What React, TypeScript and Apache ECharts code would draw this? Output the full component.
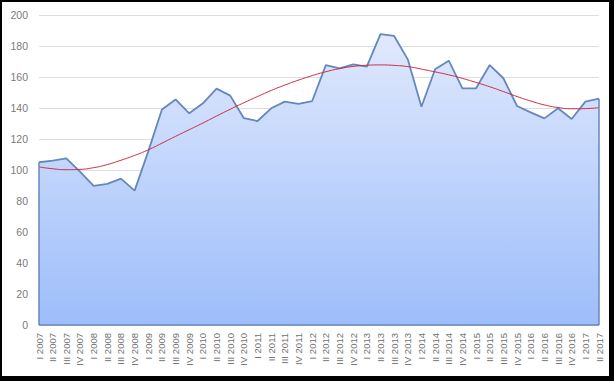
import React, { useEffect, useRef } from "react";
import * as echarts from "echarts";

const categories = [
  "I 2007", "II 2007", "III 2007", "IV 2007",
  "I 2008", "II 2008", "III 2008", "IV 2008",
  "I 2009", "II 2009", "III 2009", "IV 2009",
  "I 2010", "II 2010", "III 2010", "IV 2010",
  "I 2011", "II 2011", "III 2011", "IV 2011",
  "I 2012", "II 2012", "III 2012", "IV 2012",
  "I 2013", "II 2013", "III 2013", "IV 2013",
  "I 2014", "II 2014", "III 2014", "IV 2014",
  "I 2015", "II 2015", "III 2015", "IV 2015",
  "I 2016", "II 2016", "III 2016", "IV 2016",
  "I 2017", "II 2017",
];

const values = [
  105, 106, 107.5, 99,
  89.7, 91, 94.4, 86.7,
  112, 139, 145.5, 136.6,
  143, 152.5, 148, 133.4,
  131.6, 139.8, 144.1, 142.6,
  144.5, 167.7, 165.6, 168.2,
  166.7, 187.7, 186.5, 171.4,
  140.8, 165, 170.5, 152.7,
  152.7, 167.7, 159.2, 141.3,
  137.2, 133.3, 139.8, 132.9,
  144.1, 146,
];

const trend = [
  102, 100.8, 100.2, 100.4,
  101.5, 103.5, 106.3, 109.4,
  113, 117.3, 121.7, 126,
  130.3, 134.8, 139.2, 143.4,
  147.4, 151.3, 154.8, 158,
  160.9, 163.4, 165.4, 166.8,
  167.6, 167.8, 167.5, 166.7,
  165.1, 163.3, 161.4, 159.1,
  156.5, 153.7, 150.6, 147.4,
  144.5, 142, 140.3, 139.5,
  139.6, 140.2,
];

const yMin = 0;
const yMax = 200;
const yStep = 20;

export default function App() {
  const ref = useRef<HTMLDivElement>(null);

  useEffect(() => {
    if (!ref.current) return;
    const chart = echarts.init(ref.current, undefined, { renderer: "svg" });
    const last = categories.length - 1;
    const edgeColor = "#6488bd";
    chart.setOption({
      animation: false,
      backgroundColor: "#ffffff",
      textStyle: { fontFamily: "Liberation Sans, Arial, sans-serif" },
      grid: { left: 39, right: 15, top: 15, bottom: 56, containLabel: false },
      xAxis: {
        type: "category",
        data: categories,
        boundaryGap: false,
        axisLine: { show: true, lineStyle: { color: "#d9d9d9", width: 1 } },
        axisTick: { show: false },
        axisLabel: {
          interval: 0,
          rotate: 90,
          margin: 8,
          fontSize: 9.5,
          color: "#707070",
          fontFamily: "Liberation Sans, Arial, sans-serif",
        },
        splitLine: { show: false },
      },
      yAxis: {
        type: "value",
        min: yMin,
        max: yMax,
        interval: yStep,
        axisLine: { show: false },
        axisTick: { show: false },
        axisLabel: {
          margin: 11,
          fontSize: 10.5,
          color: "#7a7a7a",
          fontFamily: "Liberation Sans, Arial, sans-serif",
        },
        splitLine: { show: true, lineStyle: { color: "#dedede", width: 1 } },
      },
      series: [
        {
          type: "line",
          data: values,
          symbol: "none",
          lineStyle: { color: edgeColor, width: 1.8 },
          areaStyle: {
            opacity: 1,
            color: new echarts.graphic.LinearGradient(0, 0, 0, 1, [
              { offset: 0, color: "#e0e9fd" },
              { offset: 1, color: "#9dbdfa" },
            ]),
          },
          markLine: {
            silent: true,
            symbol: ["none", "none"],
            label: { show: false },
            lineStyle: { color: edgeColor, width: 1.5, type: "solid" },
            data: [
              [{ coord: [0, 0] }, { coord: [0, values[0]] }],
              [{ coord: [last, 0] }, { coord: [last, values[last]] }],
              [{ coord: [0, 0] }, { coord: [last, 0] }],
            ],
          },
          z: 2,
        },
        {
          type: "line",
          data: trend,
          symbol: "none",
          smooth: true,
          lineStyle: { color: "#cc2c3c", width: 1 },
          z: 3,
        },
      ],
      graphic: [
        { type: "rect", shape: { x: 0, y: 0, width: 614, height: 2 }, style: { fill: "#000" }, silent: true },
        { type: "rect", shape: { x: 0, y: 0, width: 2, height: 381 }, style: { fill: "#000" }, silent: true },
        { type: "rect", shape: { x: 609, y: 0, width: 5, height: 381 }, style: { fill: "#000" }, silent: true },
        { type: "rect", shape: { x: 0, y: 376, width: 614, height: 5 }, style: { fill: "#000" }, silent: true },
      ],
    });
    return () => chart.dispose();
  }, []);

  return (
    <div
      ref={ref}
      style={{ position: "absolute", left: 0, top: 0, width: 614, height: 381 }}
    />
  );
}
